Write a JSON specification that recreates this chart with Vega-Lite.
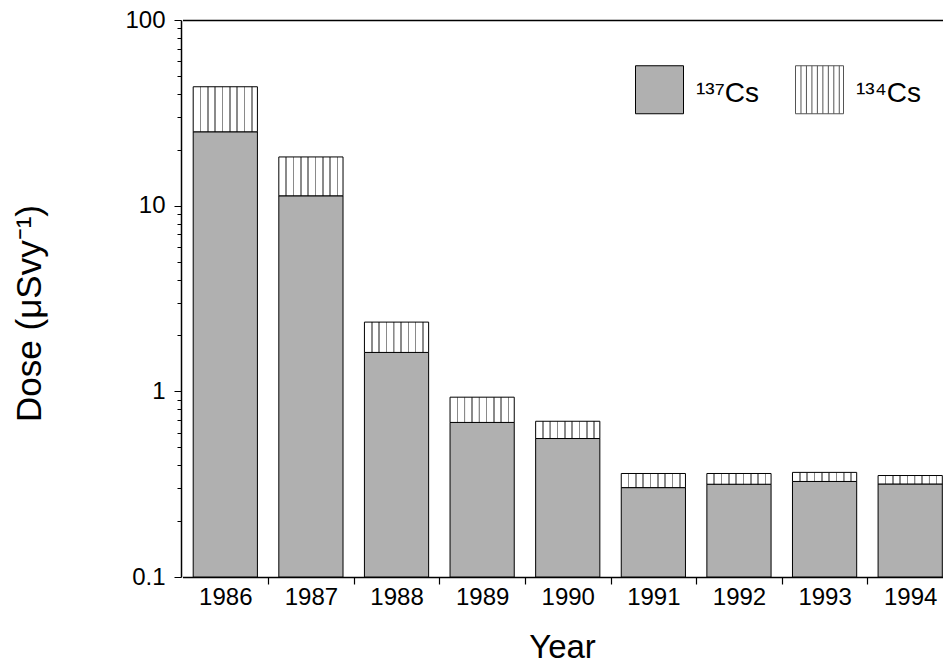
{
  "$schema": "https://vega.github.io/schema/vega-lite/v6.json",
  "autosize": {"type": "none"},
  "padding": {"left": 181, "top": 20, "right": 0, "bottom": 87},
  "width": 762,
  "height": 557,
  "background": "white",
  "config": {
    "view": {"stroke": null},
    "font": "Liberation Sans"
  },
  "data": {
    "values": [
      {"year": "1986", "cs137": 25.0, "total": 43.7},
      {"year": "1987", "cs137": 11.3, "total": 18.3},
      {"year": "1988", "cs137": 1.62, "total": 2.36},
      {"year": "1989", "cs137": 0.68, "total": 0.93},
      {"year": "1990", "cs137": 0.557, "total": 0.69},
      {"year": "1991", "cs137": 0.303, "total": 0.361},
      {"year": "1992", "cs137": 0.316, "total": 0.361},
      {"year": "1993", "cs137": 0.327, "total": 0.366},
      {"year": "1994", "cs137": 0.317, "total": 0.352}
    ]
  },
  "layer": [
    {
      "mark": {"type": "bar", "stroke": "black", "strokeWidth": 1},
      "encoding": {
        "x": {
          "field": "year", "type": "nominal",
          "scale": {"type": "band", "range": [1.5, 772], "paddingInner": 0.25, "paddingOuter": 0.125},
          "axis": {
            "orient": "bottom", "title": "Year", "labelAngle": 0,
            "labelFont": "Liberation Sans", "labelFontSize": 24, "labelColor": "black", "labelPadding": 1,
            "tickOffset": 42.8, "labelOffset": -42.8, "tickSize": 7, "tickColor": "black", "tickWidth": 1.2,
            "domainColor": "black", "domainWidth": 1.5,
            "titleFont": "Liberation Sans", "titleFontSize": 33, "titleFontWeight": "normal", "titleColor": "black",
            "titlePadding": 22, "titleX": 381
          }
        },
        "y": {
          "field": "cs137", "type": "quantitative",
          "scale": {"type": "log", "domain": [0.1, 100]},
          "axis": {
            "title": "Dose (μSvy⁻¹)",
            "values": [0.1,0.2,0.3,0.4,0.5,0.6,0.7,0.8,0.9,1,2,3,4,5,6,7,8,9,10,20,30,40,50,60,70,80,90,100],
            "labelExpr": "datum.value == 0.1 || datum.value == 1 || datum.value == 10 || datum.value == 100 ? format(datum.value, '~g') : ''",
            "labelFont": "Liberation Sans", "labelFontSize": 24, "labelColor": "black", "labelPadding": 9,
            "tickSize": {"condition": {"test": "datum.value == 0.1 || datum.value == 1 || datum.value == 10 || datum.value == 100", "value": 7}, "value": 4},
            "tickColor": "black", "tickWidth": 1,
            "domainColor": "black", "domainWidth": 1.5, "grid": false,
            "titleFont": "Liberation Sans", "titleFontSize": 35, "titleFontWeight": "normal", "titleColor": "black",
            "titleX": -141, "titleY": 293, "titleAngle": -90, "titleAlign": "center", "titleBaseline": "alphabetic"
          }
        },
        "y2": {"datum": 0.1},
        "fill": {
          "datum": "¹³⁷Cs", "type": "nominal",
          "scale": {"domain": ["¹³⁷Cs", "¹³⁴Cs"], "range": ["#b0b0b0", "#ffffff"]},
          "legend": {
            "title": null, "orient": "none", "legendX": 454, "legendY": 45,
            "direction": "horizontal", "columns": 2, "padding": 0,
            "symbolType": "square", "symbolSize": 2304, "symbolStrokeColor": "black", "symbolStrokeWidth": 1,
            "labelFont": "Liberation Sans", "labelFontSize": 28, "labelColor": "black", "labelOffset": 12,
            "columnPadding": 34, "labelLimit": 0,
            "encode": {
              "labels": {"update": {"dy": {"value": 4}}},
              "symbols": {
                "update": {
                  "strokeWidth": {"value": 1},
                  "opacity": {"value": 1},
                  "stroke": [
                    {"test": "datum.value === '¹³⁴Cs'", "value": "#555555"},
                    {"value": "black"}
                  ],
                  "shape": [
                    {"test": "datum.value === '¹³⁴Cs'", "value": "M-1,-1H1V1H-1Z M-0.772,-1V1 M-0.544,-1V1 M-0.316,-1V1 M-0.088,-1V1 M0.14,-1V1 M0.368,-1V1 M0.596,-1V1 M0.824,-1V1"},
                    {"value": "square"}
                  ]
                }
              }
            }
          }
        }
      }
    },
    {
      "mark": {
        "type": "bar", "stroke": "black", "strokeWidth": 1,
        "fill": {"gradient": "linear", "x1": 0, "y1": 0, "x2": 1, "y2": 0, "stops": [
          {"offset": 0, "color": "#ffffff"},
          {"offset": 0.101, "color": "#ffffff"}, {"offset": 0.102, "color": "#8a8a8a"}, {"offset": 0.126, "color": "#8a8a8a"}, {"offset": 0.127, "color": "#ffffff"},
          {"offset": 0.215, "color": "#ffffff"}, {"offset": 0.216, "color": "#8a8a8a"}, {"offset": 0.240, "color": "#8a8a8a"}, {"offset": 0.241, "color": "#ffffff"},
          {"offset": 0.329, "color": "#ffffff"}, {"offset": 0.330, "color": "#8a8a8a"}, {"offset": 0.354, "color": "#8a8a8a"}, {"offset": 0.355, "color": "#ffffff"},
          {"offset": 0.443, "color": "#ffffff"}, {"offset": 0.444, "color": "#8a8a8a"}, {"offset": 0.468, "color": "#8a8a8a"}, {"offset": 0.469, "color": "#ffffff"},
          {"offset": 0.557, "color": "#ffffff"}, {"offset": 0.558, "color": "#8a8a8a"}, {"offset": 0.582, "color": "#8a8a8a"}, {"offset": 0.583, "color": "#ffffff"},
          {"offset": 0.671, "color": "#ffffff"}, {"offset": 0.672, "color": "#8a8a8a"}, {"offset": 0.696, "color": "#8a8a8a"}, {"offset": 0.697, "color": "#ffffff"},
          {"offset": 0.785, "color": "#ffffff"}, {"offset": 0.786, "color": "#8a8a8a"}, {"offset": 0.810, "color": "#8a8a8a"}, {"offset": 0.811, "color": "#ffffff"},
          {"offset": 0.899, "color": "#ffffff"}, {"offset": 0.900, "color": "#8a8a8a"}, {"offset": 0.924, "color": "#8a8a8a"}, {"offset": 0.925, "color": "#ffffff"},
          {"offset": 1, "color": "#ffffff"}
        ]}
      },
      "encoding": {
        "x": {
          "field": "year", "type": "nominal",
          "scale": {"type": "band", "range": [1.5, 772], "paddingInner": 0.25, "paddingOuter": 0.125},
          "axis": {"orient": "top", "title": null, "labels": false, "ticks": false, "domainColor": "black", "domainWidth": 1.5}
        },
        "y": {
          "field": "total", "type": "quantitative",
          "scale": {"type": "log", "domain": [0.1, 100]},
          "axis": {
            "title": "Dose (μSvy⁻¹)",
            "values": [0.1,0.2,0.3,0.4,0.5,0.6,0.7,0.8,0.9,1,2,3,4,5,6,7,8,9,10,20,30,40,50,60,70,80,90,100],
            "labelExpr": "datum.value == 0.1 || datum.value == 1 || datum.value == 10 || datum.value == 100 ? format(datum.value, '~g') : ''",
            "labelFont": "Liberation Sans", "labelFontSize": 24, "labelColor": "black", "labelPadding": 9,
            "tickSize": {"condition": {"test": "datum.value == 0.1 || datum.value == 1 || datum.value == 10 || datum.value == 100", "value": 7}, "value": 4},
            "tickColor": "black", "tickWidth": 1,
            "domainColor": "black", "domainWidth": 1.5, "grid": false,
            "titleFont": "Liberation Sans", "titleFontSize": 35, "titleFontWeight": "normal", "titleColor": "black",
            "titleX": -141, "titleY": 293, "titleAngle": -90, "titleAlign": "center", "titleBaseline": "alphabetic"
          }
        },
        "y2": {"field": "cs137"}
      }
    }
  ],
  "resolve": {"axis": {"x": "independent"}}
}
